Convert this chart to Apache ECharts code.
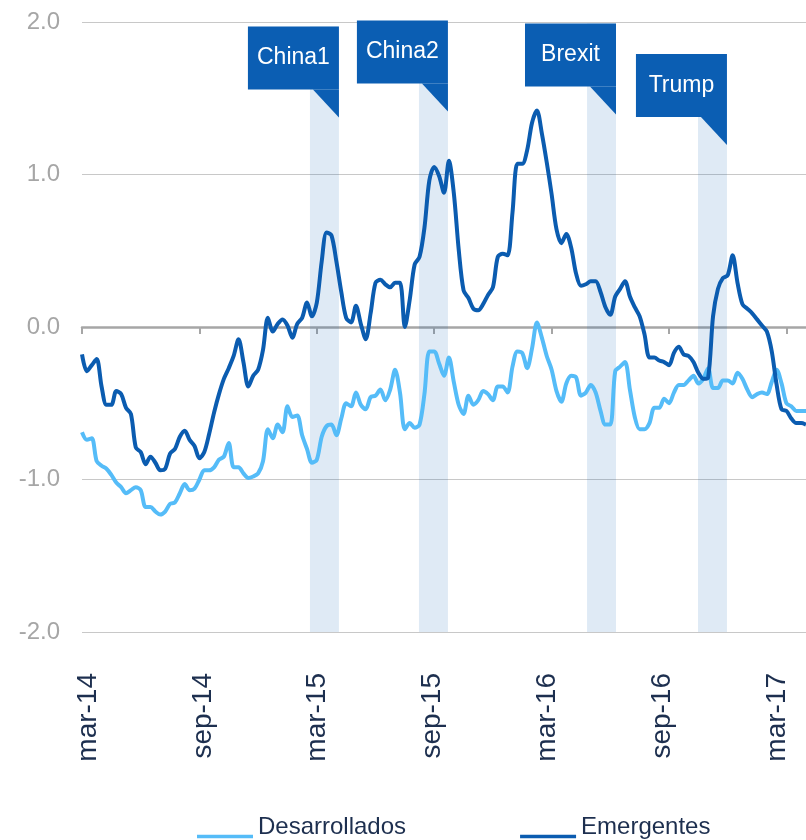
<!DOCTYPE html>
<html>
<head>
<meta charset="utf-8">
<script src="https://cdn.jsdelivr.net/npm/echarts@6/dist/echarts.min.js"></script>
<style>
    html, body { margin: 0; padding: 0; background: #fff; }
    #grafico { width: 806px; height: 840px; }
</style>
</head>
<body>
<div id="grafico"></div>
<script>
// datos semanales, x en meses desde mar-14 (paso de 1/4 de mes)
var paso = 0.25;
var desarrollados = [
    -0.69, -0.74, -0.73, -0.88, -0.91, -0.93, -0.97, -1.02, -1.05, -1.09,
    -1.07, -1.05, -1.07, -1.18, -1.18, -1.21, -1.23, -1.21, -1.16, -1.15,
    -1.09, -1.03, -1.07, -1.06, -1.00, -0.94, -0.94, -0.92, -0.87, -0.85,
    -0.76, -0.92, -0.92, -0.96, -0.99, -0.98, -0.96, -0.88, -0.67, -0.73,
    -0.64, -0.69, -0.52, -0.59, -0.58, -0.71, -0.80, -0.89, -0.87, -0.72,
    -0.65, -0.64, -0.71, -0.60, -0.50, -0.52, -0.43, -0.51, -0.54, -0.46,
    -0.45, -0.41, -0.48, -0.41, -0.28, -0.43, -0.67, -0.63, -0.66, -0.64,
    -0.44, -0.16, -0.16, -0.24, -0.32, -0.20, -0.36, -0.51, -0.57, -0.45,
    -0.51, -0.48, -0.42, -0.44, -0.48, -0.39, -0.39, -0.43, -0.26, -0.16,
    -0.17, -0.27, -0.14, 0.03, -0.07, -0.19, -0.28, -0.42, -0.49, -0.37,
    -0.32, -0.33, -0.45, -0.43, -0.38, -0.43, -0.55, -0.64, -0.64, -0.29,
    -0.26, -0.23, -0.41, -0.59, -0.67, -0.67, -0.63, -0.53, -0.53, -0.47,
    -0.50, -0.43, -0.38, -0.38, -0.35, -0.32, -0.37, -0.34, -0.27, -0.40,
    -0.40, -0.35, -0.35, -0.37, -0.30, -0.34, -0.41, -0.46, -0.44, -0.43,
    -0.44, -0.36, -0.28, -0.37, -0.50, -0.52, -0.55, -0.55, -0.55
];
var emergentes = [
    -0.18, -0.29, -0.25, -0.21, -0.39, -0.51, -0.51, -0.42, -0.44, -0.53,
    -0.57, -0.79, -0.82, -0.90, -0.85, -0.89, -0.94, -0.93, -0.83, -0.80,
    -0.72, -0.68, -0.74, -0.78, -0.86, -0.82, -0.70, -0.56, -0.44, -0.34,
    -0.27, -0.19, -0.08, -0.23, -0.39, -0.32, -0.28, -0.15, 0.06, -0.03,
    0.02, 0.05, 0.01, -0.07, 0.02, 0.06, 0.16, 0.07, 0.16, 0.43,
    0.62, 0.60, 0.43, 0.23, 0.06, 0.03, 0.14, 0.02, -0.08, 0.09,
    0.29, 0.31, 0.28, 0.26, 0.29, 0.29, 0.00, 0.18, 0.41, 0.46,
    0.65, 0.96, 1.05, 0.99, 0.88, 1.09, 0.88, 0.51, 0.24, 0.19,
    0.12, 0.11, 0.15, 0.21, 0.26, 0.46, 0.48, 0.47, 0.75, 1.07,
    1.07, 1.16, 1.34, 1.42, 1.27, 1.08, 0.87, 0.64, 0.55, 0.61,
    0.52, 0.35, 0.27, 0.28, 0.30, 0.30, 0.23, 0.13, 0.08, 0.20,
    0.25, 0.30, 0.20, 0.13, 0.07, -0.05, -0.20, -0.20, -0.22, -0.23,
    -0.25, -0.17, -0.13, -0.18, -0.19, -0.23, -0.30, -0.34, -0.33, 0.07,
    0.25, 0.32, 0.34, 0.47, 0.29, 0.15, 0.12, 0.09, 0.05, 0.01,
    -0.03, -0.16, -0.38, -0.54, -0.55, -0.60, -0.63, -0.63, -0.64
];
// etiquetas del eje x (meses desde mar-14)
var mesesEtiqueta = [0, 6, 12, 18, 24, 30, 36];
var etiquetas = ['mar-14', 'sep-14', 'mar-15', 'sep-15', 'mar-16', 'sep-16', 'mar-17'];
// eventos: bandas sombreadas y globos
var eventos = ['China1', 'China2', 'Brexit', 'Trump'];
var eventoInicio = [11.65, 17.22, 25.81, 31.48];
var eventoFin = [13.13, 18.70, 27.29, 32.96];
var globoTecho = [1.97, 2.01, 1.99, 1.79];

(function () {
    var myChart = echarts.init(document.getElementById('grafico'));
    var fuente = '"Liberation Sans", Arial, sans-serif';
    var azulOscuro = '#0b5cb0';
    var azulClaro = '#55bcf8';
    var textoAzul = '#1d2f4f';

    var conX = function (serie) {
        return serie.map(function (v, i) { return [i * paso, v]; });
    };

    var bandas = eventos.map(function (n, i) {
        return [{ xAxis: eventoInicio[i], yAxis: globoTecho[i] }, { xAxis: eventoFin[i], yAxis: -2 }];
    });
    var globos = eventos.map(function (n, i) {
        return [eventoFin[i], globoTecho[i]];
    });

    var option = {
        animation: false,
        grid: { left: 82, right: 0, top: 22, bottom: 208, outerBoundsMode: 'none' },
        legend: {
            data: ['Desarrollados', 'Emergentes'],
            left: 197,
            top: 815,
            padding: 0,
            itemWidth: 56,
            itemHeight: 24,
            itemGap: 114,
            icon: 'path://M0,0 M0,19 L56,19 L56,22.5 L0,22.5 Z',
            textStyle: { fontFamily: fuente, fontSize: 24, color: textoAzul }
        },
        xAxis: [
            {
                // eje en el cero, con marcas
                type: 'value',
                min: 0,
                max: 37,
                axisLine: { onZero: true, lineStyle: { color: '#a6a6a6', width: 2.5 } },
                axisTick: { customValues: mesesEtiqueta, length: 7, lineStyle: { color: '#a6a6a6', width: 2 } },
                axisLabel: { show: false },
                splitLine: { show: false }
            },
            {
                // solo etiquetas, abajo
                type: 'value',
                position: 'bottom',
                min: -0.313,
                max: 37.515,
                axisLine: { show: false, onZero: false },
                axisTick: { show: false },
                splitLine: { show: false },
                axisLabel: {
                    customValues: mesesEtiqueta,
                    rotate: 90,
                    margin: 41,
                    fontFamily: fuente,
                    fontSize: 28,
                    color: textoAzul,
                    formatter: function (v) {
                        return etiquetas[mesesEtiqueta.indexOf(Math.round(v))];
                    }
                }
            }
        ],
        yAxis: {
            type: 'value',
            min: -2,
            max: 2,
            interval: 1,
            axisLine: { show: false, onZero: false },
            axisTick: { show: false },
            axisLabel: {
                margin: 22,
                fontFamily: fuente,
                fontSize: 24,
                color: '#a6a6a6',
                formatter: function (v) { return v.toFixed(1); }
            },
            splitLine: { lineStyle: { color: '#c8c8c8', width: 1 } }
        },
        series: [
            {
                name: 'Desarrollados',
                type: 'line',
                data: conX(desarrollados),
                symbol: 'none',
                smooth: 0.3,
                lineStyle: { color: azulClaro, width: 4 },
                itemStyle: { color: azulClaro },
                markArea: {
                    silent: true,
                    itemStyle: { color: 'rgba(11,92,176,0.13)' },
                    data: bandas
                },
                z: 2
            },
            {
                name: 'Emergentes',
                type: 'line',
                data: conX(emergentes),
                symbol: 'none',
                smooth: 0.3,
                lineStyle: { color: azulOscuro, width: 4 },
                itemStyle: { color: azulOscuro },
                z: 3
            },
            {
                name: 'eventos',
                type: 'custom',
                data: globos,
                z: 5,
                renderItem: function (params, api) {
                    var p = api.coord([api.value(0), api.value(1)]);
                    var w = 91, h = 63;
                    return {
                        type: 'group',
                        children: [
                            { type: 'rect', shape: { x: p[0] - w, y: p[1], width: w, height: h }, style: { fill: '#0b5eb3' } },
                            { type: 'polygon', shape: { points: [[p[0] - 26, p[1] + h], [p[0], p[1] + h], [p[0], p[1] + h + 28]] }, style: { fill: '#0b5eb3' } },
                            {
                                type: 'text',
                                x: p[0] - w / 2,
                                y: p[1] + h / 2,
                                style: {
                                    text: eventos[params.dataIndex],
                                    fill: '#fff',
                                    font: '23px ' + fuente,
                                    align: 'center',
                                    verticalAlign: 'middle'
                                }
                            }
                        ]
                    };
                }
            }
        ]
    };
    myChart.setOption(option);
    window.addEventListener('resize', function () {
        myChart.resize();
    });
})();
</script>
</body>
</html>
